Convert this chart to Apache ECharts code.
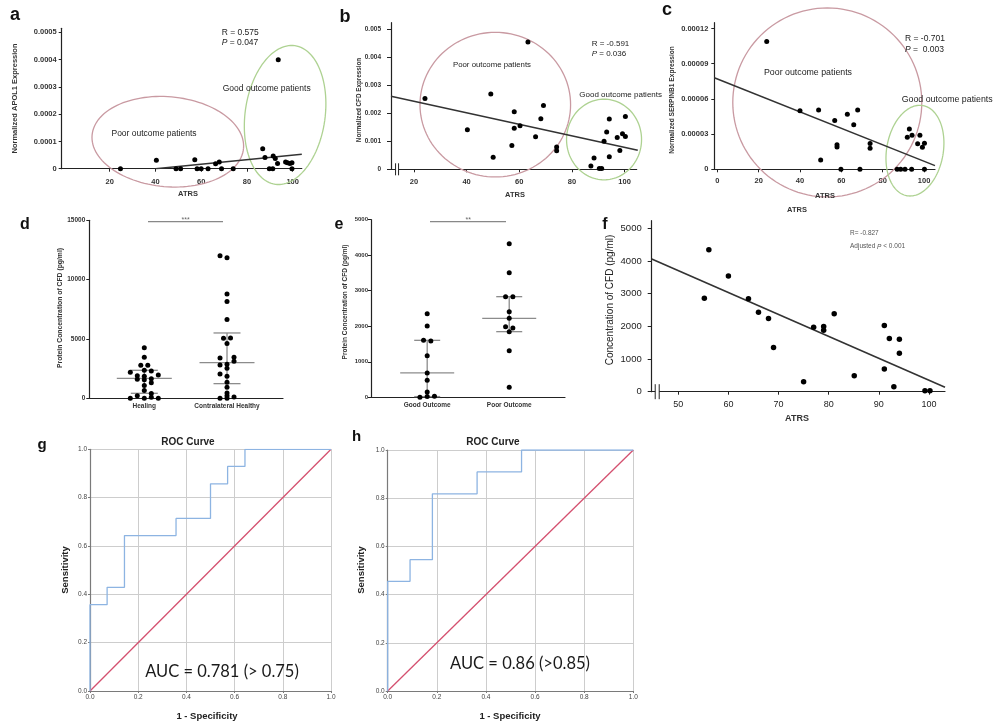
<!DOCTYPE html>
<html><head><meta charset="utf-8">
<script src="https://cdn.jsdelivr.net/npm/echarts@6/dist/echarts.min.js"></script>
<style>html,body{margin:0;padding:0;background:#fff}#c{width:998px;height:724px}</style>
</head><body><div id="c"></div>
<script>
// ================= DATA =================
// Panel a: APOL1 vs ATRS
const aX = [24.7, 40.4, 49, 51, 57.2, 58.2, 60, 63, 66.3, 67.9, 68.9, 74, 86.9, 87.9, 89.8, 91.3, 91.5, 92.4, 93.4, 93.7, 96.9, 97.7, 98.8, 99.7, 99.7];
const aY = [0, 0.0000313, 0, 0, 0.0000325, 0, 0, 0, 0.000018, 0.000025, 0, 0, 0.0000735, 0.000041, 0, 0, 0.000047, 0.000037, 0.000019, 0.0004, 0.000025, 0.000022, 0.000019, 0.000022, 0];
const aLineX = [40, 104];
const aLineY = [0, 0.000053];
const aXTicks = [20, 40, 60, 80, 100];
const aYTicks = [0, 0.0001, 0.0002, 0.0003, 0.0004, 0.0005];

// Panel b: CFD vs ATRS
const bX = [24.2, 40.3, 49.2, 50.1, 57.2, 58.1, 58.1, 60.3, 63.3, 66.2, 68.2, 69.2, 74.2, 74.2, 87.2, 88.4, 90.4, 91.3, 92.2, 93.2, 94.2, 94.2, 97.2, 98.2, 99.2, 100.3, 100.3];
const bY = [0.00253, 0.00141, 0.00269, 0.00043, 0.00085, 0.00206, 0.00147, 0.00156, 0.00455, 0.00116, 0.00181, 0.00228, 0.0008, 0.00066, 0.00012, 0.0004, 0.00003, 0.00003, 0.001, 0.00133, 0.0018, 0.00045, 0.00114, 0.00067, 0.00127, 0.00189, 0.00117];
const bLineX = [11.3, 105];
const bLineY = [0.00261, 0.00068];
const bXTicks = [20, 40, 60, 80, 100];
const bYTicks = [0, 0.001, 0.002, 0.003, 0.004, 0.005];

// Panel c: SERPINB1 vs ATRS
const cX = [23.9, 40, 49, 50, 56.8, 57.9, 57.9, 59.8, 62.9, 66, 67.9, 69, 73.9, 73.9, 87, 88.7, 90.8, 94, 91.9, 92.9, 94.2, 96.9, 98, 99.2, 100.2, 100.2];
const cY = [0.000109, 0.00005, 0.0000506, 0.000008, 0.0000417, 0.000021, 0.000019, 0, 0.000047, 0.000038, 0.0000506, 0, 0.000022, 0.000018, 0, 0, 0, 0, 0.0000274, 0.0000343, 0.000029, 0.0000217, 0.000029, 0.0000189, 0.0000223, 0];
const cLineX = [-1.45, 105.3];
const cLineY = [0.000078, 0.0000031];
const cXTicks = [0, 20, 40, 60, 80, 100];
const cYTicks = [0, 0.00003, 0.00006, 0.00009, 0.00012];

// Panel d: protein concentration, Healing vs Contralateral Healthy
const dCats = ['Healing', 'Contralateral Healthy'];
const dHealing = [4270, 3455, 2780, 2780, 2360, 2300, 2190, 1966, 1910, 1850, 1600, 1570, 1650, 1300, 1070, 650, 400, 220, 0, 0, 80, 0];
const dHealingSlot = [0, 0, -0.5, 0.5, 0, 1, -2, 2, -1, 0, -1, 0, 1, 1, 0, 0, 1, -1, -2, 0, 1, 2];
const dContra = [12020, 11850, 8790, 8150, 6630, 5060, 5080, 4610, 3400, 3455, 3120, 2810, 2870, 2530, 2050, 1850, 1350, 930, 450, 225, 0, 0, 110];
const dContraSlot = [-1, 0, 0, 0, 0, -0.5, 0.5, 0, -1, 1, 1, -1, 0, 0, -1, 0, 0, 0, 0, 0, -1, 0, 1];
const dMedian = [1685, 3006];
const dQ1 = [421, 1236];
const dQ3 = [2360, 5506];
const dYTicks = [0, 5000, 10000, 15000];

// Panel e: Good vs Poor outcome
const eCats = ['Good Outcome', 'Poor Outcome'];
const eGood = [2355, 2008, 1604, 1585, 1173, 685, 478, 150, 0, 20, 30];
const eGoodSlot = [0, 0, -0.5, 0.5, 0, 0, 0, 0, -1, 0, 1];
const ePoor = [4325, 3508, 2833, 2833, 2411, 2223, 1989, 1950, 1848, 1313, 281];
const ePoorSlot = [0, 0, -0.5, 0.5, 0, 0, -0.5, 0.5, 0, 0, 0];
const eMedian = [685, 2223];
const eQ1 = [20, 1848];
const eQ3 = [1604, 2833];
const eYTicks = [0, 1000, 2000, 3000, 4000, 5000];

// Panel f: CFD concentration vs ATRS
const fX = [55.2, 56.1, 60, 64, 66, 68, 69, 75, 77, 79, 79, 81.1, 85.1, 91.1, 91.1, 92.1, 93, 94.1, 94.1, 99.2, 100.2];
const fY = [2863, 4346, 3538, 2843, 2434, 2239, 1350, 307, 1973, 1994, 1881, 2382, 491, 2025, 695, 1626, 153, 1605, 1176, 31, 31];
const fLineX = [44.7, 103.2];
const fLineY = [4059, 133];
const fXTicks = [50, 60, 70, 80, 90, 100];
const fYTicks = [0, 1000, 2000, 3000, 4000, 5000];

// Panels g, h: ROC curves
const gFpr = [0, 0, 0.071, 0.071, 0.143, 0.143, 0.357, 0.357, 0.5, 0.5, 0.571, 0.571, 0.643, 0.643, 1];
const gTpr = [0, 0.357, 0.357, 0.429, 0.429, 0.643, 0.643, 0.714, 0.714, 0.857, 0.857, 0.929, 0.929, 1, 1];
const hFpr = [0, 0, 0.091, 0.091, 0.182, 0.182, 0.364, 0.364, 0.545, 0.545, 1];
const hTpr = [0, 0.455, 0.455, 0.545, 0.545, 0.818, 0.818, 0.909, 0.909, 1, 1];
const refX = [0, 1];
const refY = [0, 1];

// ================= BUILD =================
const FONT = "'Liberation Sans', Arial, sans-serif";
const PINK = '#c99aa2', GREEN = '#aed292';
const zip = (xs, ys) => xs.map((x, i) => [x, ys[i]]);

const grids = [
  {left: 61.7, top: 28.3, width: 240.1, height: 140.4},
  {left: 391, top: 22.7, width: 245.7, height: 146.6},
  {left: 714.3, top: 22.7, width: 220.7, height: 146.6},
  {left: 89.3, top: 220.3, width: 193.7, height: 178},
  {left: 371, top: 219.7, width: 194, height: 177.6},
  {left: 651.7, top: 220.7, width: 293.3, height: 171},
  {left: 90, top: 449.3, width: 241, height: 241.7},
  {left: 387.7, top: 450, width: 245.6, height: 241}
].map(g => Object.assign({containLabel: false, outerBoundsMode: 'none'}, g));

const numFmt = v => (Math.abs(v) < 1e-12 ? '0' : String(+v.toPrecision(5)));

function axis(gi, min, max, ticks, o) {
  o = o || {};
  return {
    gridIndex: gi, type: 'value', min, max, scale: false,
    axisLine: {show: true, onZero: false, lineStyle: {color: '#222', width: 1.2}},
    axisTick: {show: o.tick !== false, customValues: ticks, length: o.tickLen || 3, inside: false, lineStyle: {color: '#222', width: 1}},
    axisLabel: {show: true, customValues: ticks, formatter: o.fmt || numFmt, fontSize: o.size || 7,
      fontWeight: o.weight || 'bold', color: o.color || '#333', margin: o.margin || 5, fontFamily: FONT},
    splitLine: {show: false}
  };
}
function rocAxis(gi) {
  return {
    gridIndex: gi, type: 'value', min: 0, max: 1, interval: 0.2,
    axisLine: {show: true, onZero: false, lineStyle: {color: '#7a7a7a', width: 1.2}},
    axisTick: {show: true, length: 2, lineStyle: {color: '#7a7a7a'}},
    axisLabel: {formatter: v => v.toFixed(1), fontSize: 6.5, color: '#444', margin: 3, fontFamily: FONT},
    splitLine: {show: true, lineStyle: {color: '#cdcdcd', width: 1}}
  };
}

const xAxes = [
  axis(0, -1, 104, aXTicks, {size: 7.5, margin: 9}),
  axis(1, 11.3, 104.6, bXTicks, {size: 7.5, margin: 9}),
  axis(2, -1.45, 105.3, cXTicks, {size: 7.5, margin: 8}),
  axis(3, -0.665, 1.677, [0, 1], {tick: false, size: 6.5, margin: 4, fmt: v => dCats[Math.round(v)]}),
  axis(4, -0.685, 1.68, [0, 1], {tick: false, size: 6.5, margin: 4, fmt: v => eCats[Math.round(v)]}),
  axis(5, 44.7, 103.2, fXTicks, {size: 9, weight: 'normal', color: '#222', margin: 8}),
  rocAxis(6), rocAxis(7)
];
const yAxes = [
  axis(0, 0, 0.000515, aYTicks, {size: 7.5, margin: 5}),
  axis(1, 0, 0.00524, bYTicks, {size: 6.5, margin: 10, tickLen: 4}),
  axis(2, 0, 0.000125, cYTicks, {size: 7.5, margin: 6}),
  axis(3, 0, 15000, dYTicks, {size: 6.5, margin: 4}),
  axis(4, 0, 5000, eYTicks, {size: 6, margin: 3}),
  axis(5, 0, 5232, fYTicks, {size: 9.5, weight: 'normal', color: '#222', margin: 10, tickLen: 4}),
  rocAxis(6), rocAxis(7)
];

const series = [];
function scatter(i, data, size) {
  series.push({type: 'scatter', xAxisIndex: i, yAxisIndex: i, data, symbolSize: size || 5,
    itemStyle: {color: '#000', opacity: 1}, silent: true, z: 5});
}
function line(i, data, color, width) {
  series.push({type: 'line', xAxisIndex: i, yAxisIndex: i, data, symbol: 'none', silent: true,
    lineStyle: {color, width: width || 1.5}, z: 4});
}
function ellipse(i, e) {
  series.push({type: 'custom', xAxisIndex: i, yAxisIndex: i, clip: false, silent: true, z: 2,
    data: [[e.cx, e.cy]],
    renderItem(params, api) {
      const c = api.coord([api.value(0), api.value(1)]);
      const th = (e.rot || 0) * Math.PI / 180, pts = [];
      for (let k = 0; k <= 120; k++) {
        const t = k / 120 * 2 * Math.PI, x = e.rx * Math.cos(t), y = e.ry * Math.sin(t);
        pts.push([c[0] + x * Math.cos(th) - y * Math.sin(th), c[1] + x * Math.sin(th) + y * Math.cos(th)]);
      }
      return {type: 'polyline', shape: {points: pts}, style: {stroke: e.color, lineWidth: 1.3, fill: 'none'}};
    }});
}
function breakMark(i, bx, half, gap) {
  series.push({type: 'custom', xAxisIndex: i, yAxisIndex: i, clip: false, silent: true, z: 6,
    data: [[bx, 0]],
    renderItem(params, api) {
      const c = api.coord([api.value(0), api.value(1)]);
      return {type: 'group', children: [
        {type: 'rect', shape: {x: c[0] - gap / 2, y: c[1] - 2, width: gap, height: 4}, style: {fill: '#fff'}},
        {type: 'line', shape: {x1: c[0] - gap / 2, y1: c[1] - half, x2: c[0] - gap / 2, y2: c[1] + half}, style: {stroke: '#222', lineWidth: 1}},
        {type: 'line', shape: {x1: c[0] + gap / 2, y1: c[1] - half, x2: c[0] + gap / 2, y2: c[1] + half}, style: {stroke: '#222', lineWidth: 1}}
      ]};
    }});
}
function errBars(i, med, q1, q3, medHalf, capHalf) {
  series.push({type: 'custom', xAxisIndex: i, yAxisIndex: i, silent: true, z: 3,
    data: med.map((m, k) => [k, m, q1[k], q3[k]]),
    renderItem(params, api) {
      const x = api.value(0);
      const pm = api.coord([x, api.value(1)]), p1 = api.coord([x, api.value(2)]), p3 = api.coord([x, api.value(3)]);
      const st = {stroke: '#8c8c8c', lineWidth: 1.3};
      return {type: 'group', children: [
        {type: 'line', shape: {x1: pm[0] - medHalf, y1: pm[1], x2: pm[0] + medHalf, y2: pm[1]}, style: st},
        {type: 'line', shape: {x1: p1[0] - capHalf, y1: p1[1], x2: p1[0] + capHalf, y2: p1[1]}, style: st},
        {type: 'line', shape: {x1: p3[0] - capHalf, y1: p3[1], x2: p3[0] + capHalf, y2: p3[1]}, style: st},
        {type: 'line', shape: {x1: p1[0], y1: p1[1], x2: p3[0], y2: p3[1]}, style: st}
      ]};
    }});
}
const swarm = (cat, vals, slots, step) => vals.map((v, k) => [cat + slots[k] * step, v]);

// a
ellipse(0, {cx: 45.4, cy: 0.0000989, rx: 76, ry: 45, rot: 5, color: PINK});
ellipse(0, {cx: 96.7, cy: 0.000197, rx: 40, ry: 70, rot: 8, color: GREEN});
line(0, zip(aLineX, aLineY), '#333');
scatter(0, zip(aX, aY));
// b
ellipse(1, {cx: 50.9, cy: 0.00231, rx: 75.3, ry: 72.3, rot: 0, color: PINK});
ellipse(1, {cx: 92.2, cy: 0.001065, rx: 37.5, ry: 40.3, rot: 0, color: GREEN});
line(1, zip(bLineX, bLineY), '#333');
scatter(1, zip(bX, bY));
breakMark(1, 13.6, 6, 3);
// c
ellipse(2, {cx: 53.2, cy: 0.000057, rx: 94.5, ry: 94.5, rot: 0, color: PINK});
ellipse(2, {cx: 95.6, cy: 0.0000159, rx: 28.3, ry: 45.8, rot: 10, color: GREEN});
line(2, zip(cLineX, cLineY), '#333');
scatter(2, zip(cX, cY));
// d
errBars(3, dMedian, dQ1, dQ3, 27.5, 13.5);
scatter(3, swarm(0, dHealing, dHealingSlot, 0.0846).concat(swarm(1, dContra, dContraSlot, 0.0846)), 5);
// e
errBars(4, eMedian, eQ1, eQ3, 27, 13);
scatter(4, swarm(0, eGood, eGoodSlot, 0.0887).concat(swarm(1, ePoor, ePoorSlot, 0.0887)), 5);
// f
line(5, zip(fLineX, fLineY), '#333', 1.6);
scatter(5, zip(fX, fY), 5.5);
breakMark(5, 45.8, 7.5, 4);
// g, h
line(6, zip(refX, refY), '#d4506f', 1.3);
line(6, zip(gFpr, gTpr), '#8db4e2', 1.3);
line(7, zip(refX, refY), '#d4506f', 1.3);
line(7, zip(hFpr, hTpr), '#8db4e2', 1.3);

// ================= TEXT =================
function T(text, x, y, o) {
  o = o || {};
  const align = o.align || 'center', va = o.va || 'middle';
  return {type: 'text', x, y, rotation: o.rot || 0, silent: true, z: 100,
    style: {text, fill: o.color || '#222', fontSize: o.size || 8, fontFamily: o.family || FONT,
      fontWeight: o.weight || 'normal', fontStyle: o.fstyle || 'normal',
      align, verticalAlign: va, textAlign: align, textVerticalAlign: va, rich: o.rich}};
}
const V = Math.PI / 2;
const ital = s => ({i: {fontStyle: 'italic', fontSize: s, fontFamily: FONT, fill: '#222'}});
const graphics = [
  // panel letters
  T('a', 15, 15.4, {size: 18, weight: 'bold', color: '#111'}),
  T('b', 345, 17, {size: 18, weight: 'bold', color: '#111'}),
  T('c', 667, 9.7, {size: 18, weight: 'bold', color: '#111'}),
  T('d', 25, 224.4, {size: 16, weight: 'bold', color: '#111'}),
  T('e', 339, 224.4, {size: 16, weight: 'bold', color: '#111'}),
  T('f', 605, 224.4, {size: 16, weight: 'bold', color: '#111'}),
  T('g', 42, 444.7, {size: 15, weight: 'bold', color: '#111'}),
  T('h', 356.7, 436.4, {size: 15, weight: 'bold', color: '#111'}),
  // axis titles
  T('Normalized APOL1 Expression', 15, 98.5, {rot: V, size: 7.5, weight: 'bold', color: '#333'}),
  T('ATRS', 188, 194, {size: 7.5, weight: 'bold', color: '#333'}),
  T('Normalized CFD Expression', 359.3, 100, {rot: V, size: 6.3, weight: 'bold', color: '#333'}),
  T('ATRS', 515, 195, {size: 7.5, weight: 'bold', color: '#333'}),
  T('Normalized SERPINB1 Expression', 671.7, 100, {rot: V, size: 6.6, weight: 'bold', color: '#333'}),
  T('ATRS', 825, 196, {size: 7.5, weight: 'bold', color: '#333'}),
  T('ATRS', 797, 210, {size: 7.5, weight: 'bold', color: '#333'}),
  T('Protein Concentration of CFD (pg/ml)', 60, 308, {rot: V, size: 6.8, weight: 'bold', color: '#333'}),
  T('Protein Concentration of CFD (pg/ml)', 345, 302, {rot: V, size: 6.5, weight: 'bold', color: '#333'}),
  T('Concentration of CFD (pg/ml)', 610, 300, {rot: V, size: 10, color: '#222'}),
  T('ATRS', 797, 419, {size: 9, weight: 'bold', color: '#333'}),
  T('ROC Curve', 188, 442.3, {size: 10, weight: 'bold', color: '#222'}),
  T('ROC Curve', 493, 442.3, {size: 10, weight: 'bold', color: '#222'}),
  T('Sensitivity', 65, 570, {rot: V, size: 9.5, weight: 'bold', color: '#222'}),
  T('Sensitivity', 361.7, 570, {rot: V, size: 9.5, weight: 'bold', color: '#222'}),
  T('1 - Specificity', 207, 716, {size: 9.5, weight: 'bold', color: '#222'}),
  T('1 - Specificity', 510, 716, {size: 9.5, weight: 'bold', color: '#222'}),
  // stats
  T('R = 0.575', 221.7, 32.3, {size: 8.5, align: 'left'}),
  T('{i|P} = 0.047', 221.7, 42.7, {size: 8.5, align: 'left', rich: ital(8.5)}),
  T('R = -0.591', 591.7, 43.3, {size: 8, align: 'left'}),
  T('{i|P} = 0.036', 591.7, 53.3, {size: 8, align: 'left', rich: ital(8)}),
  T('R = -0.701', 905, 38.3, {size: 8.5, align: 'left'}),
  T('{i|P} =  0.003', 905, 49.3, {size: 8.5, align: 'left', rich: ital(8.5)}),
  T('R= -0.827', 850, 233.3, {size: 6.5, align: 'left', color: '#555'}),
  T('Adjusted {i|P} < 0.001', 850, 246.7, {size: 6.5, align: 'left', color: '#555', rich: {i: {fontStyle: 'italic', fontSize: 6.5, fontFamily: FONT, fill: '#555'}}}),
  // ellipse captions
  T('Poor outcome patients', 154, 133.3, {size: 8.5}),
  T('Good outcome patients', 266.7, 88.3, {size: 8.5}),
  T('Poor outcome patients', 492, 65, {size: 7.8}),
  T('Good outcome patients', 579.3, 94.3, {size: 8, align: 'left'}),
  T('Poor outcome patients', 808, 72.3, {size: 8.8}),
  T('Good outcome patients', 901.7, 99.3, {size: 8.8, align: 'left'}),
  // significance
  {type: 'line', silent: true, shape: {x1: 148, y1: 221.7, x2: 223, y2: 221.7}, style: {stroke: '#888', lineWidth: 1.2}},
  T('***', 185.7, 220.5, {size: 7, color: '#666'}),
  {type: 'line', silent: true, shape: {x1: 430, y1: 221.7, x2: 506, y2: 221.7}, style: {stroke: '#888', lineWidth: 1.2}},
  T('**', 468.3, 220.5, {size: 7, color: '#666'}),
  // AUC
  T('AUC = 0.781 (> 0.75)', 222, 671.7, {size: 16.5, family: "Lato, 'Liberation Sans', sans-serif", color: '#1a1a1a'}),
  T('AUC = 0.86 (>0.85)', 520, 664, {size: 16.5, family: "Lato, 'Liberation Sans', sans-serif", color: '#1a1a1a'})
];

const chart = echarts.init(document.getElementById('c'), null, {renderer: 'canvas'});
chart.setOption({
  animation: false,
  backgroundColor: '#fff',
  grid: grids,
  xAxis: xAxes,
  yAxis: yAxes,
  series,
  graphic: graphics
});
</script>
</body></html>
